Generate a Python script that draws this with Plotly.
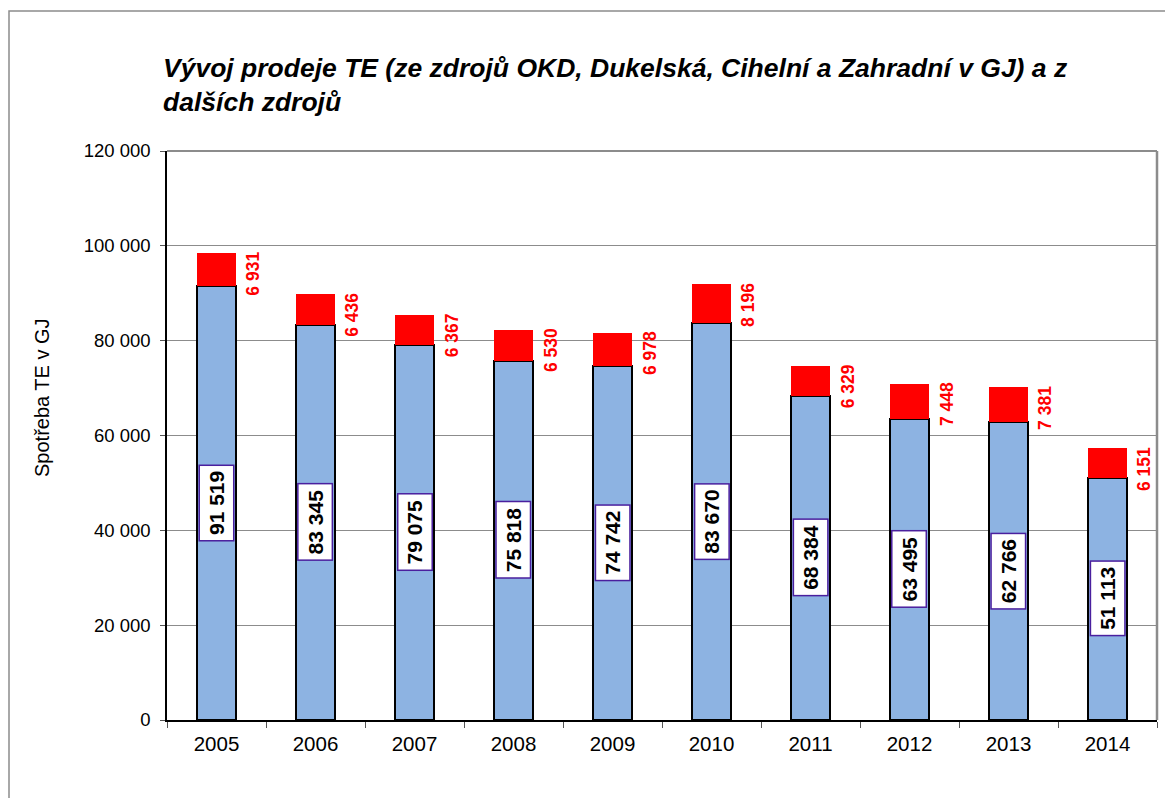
import plotly.graph_objects as go

years = ["2005", "2006", "2007", "2008", "2009", "2010", "2011", "2012", "2013", "2014"]
own_sources = [91519, 83345, 79075, 75818, 74742, 83670, 68384, 63495, 62766, 51113]
other_sources = [6931, 6436, 6367, 6530, 6978, 8196, 6329, 7448, 7381, 6151]
y_ticks = [0, 20000, 40000, 60000, 80000, 100000, 120000]
title_text = "Vývoj prodeje TE (ze zdrojů OKD, Dukelská, Cihelní a Zahradní v GJ) a z<br>dalších zdrojů"

def fmt(v):
    return f"{v:,}".replace(",", " ")

# the page body has an 8px margin; lay out in window pixels and compensate
OFF = 8
W, H = 1173 - OFF, 798 - OFF
PX_L, PX_T, PX_R, PX_B = 167, 151, 1157, 720  # plot area in window pixels
L, T = PX_L - OFF, PX_T - OFF
R, B = W - (PX_R - OFF), H - (PX_B - OFF)
PW, PH = PX_R - PX_L, PX_B - PX_T

def px_x(p):
    return (p - PX_L) / PW

def px_y(p):
    return (PX_B - p) / PH

fig = go.Figure()
fig.add_trace(go.Bar(
    x=years, y=own_sources, name="OKD, Dukelská, Cihelní, Zahradní",
    marker=dict(color="#8DB3E2", line=dict(color="black", width=2)),
))
fig.add_trace(go.Bar(
    x=years, y=other_sources, name="další zdroje",
    marker=dict(color="#FF0000", line=dict(color="#FF0000", width=0)),
))

annotations = []
for i, (a, b) in enumerate(zip(own_sources, other_sources)):
    annotations.append(dict(
        x=i, y=a / 2, xref="x", yref="y", text=fmt(a), showarrow=False,
        textangle=-90, font=dict(family="Liberation Sans, Arial", size=21, color="black", weight="bold"),
        bgcolor="white", bordercolor="#4A1F9E", borderwidth=1.5, borderpad=5,
        xanchor="center", yanchor="middle",
    ))
    annotations.append(dict(
        x=i, y=a + b, xref="x", yref="y", text=fmt(b), showarrow=False,
        textangle=-90, font=dict(family="Liberation Sans, Arial", size=17.5, color="#FF0000", weight="bold"),
        xanchor="center", yanchor="top", xshift=37, yshift=3,
    ))

annotations.append(dict(
    x=px_x(42), y=px_y(397), xref="paper", yref="paper",
    text="Spotřeba TE v GJ", showarrow=False, textangle=-90,
    font=dict(family="Liberation Sans, Arial", size=20, color="black"),
    xanchor="center", yanchor="middle",
))
annotations.append(dict(
    x=px_x(161), y=px_y(51), xref="paper", yref="paper",
    text=title_text, showarrow=False, align="left",
    font=dict(family="Liberation Sans, Arial", size=26.5, color="black", weight="bold", style="italic"),
    xanchor="left", yanchor="top",
))

shapes = [
    dict(type="rect", xref="paper", yref="paper",
         x0=px_x(9), y0=-0.3, x1=1.2, y1=px_y(11),
         line=dict(color="#8C8C8C", width=1.5), layer="below"),
    dict(type="line", xref="paper", yref="paper", x0=0, y0=1, x1=1, y1=1,
         line=dict(color="#8C8C8C", width=2), layer="below"),
    dict(type="line", xref="paper", yref="paper", x0=1, y0=0, x1=1, y1=1,
         line=dict(color="#8C8C8C", width=2.5), layer="below"),
]

fig.update_layout(
    width=W, height=H,
    margin=dict(l=L, r=R, t=T, b=B, autoexpand=False),
    paper_bgcolor="white", plot_bgcolor="white",
    barmode="stack", bargap=0.6, showlegend=False,
    separators=", ",
    font=dict(family="Liberation Sans, Arial", size=18, color="black"),
    xaxis=dict(
        type="category", range=[-0.5, len(years) - 0.5],
        showline=True, linecolor="black", linewidth=1.5,
        ticks="outside", tickson="boundaries", ticklen=6, tickcolor="#555555",
        showgrid=False, tickfont=dict(size=20.5), ticklabelstandoff=5,
    ),
    yaxis=dict(
        range=[0, 120000], tickvals=y_ticks, tickformat=",d",
        showline=True, linecolor="black", linewidth=1.5,
        ticks="outside", ticklen=5, tickcolor="#555555",
        showgrid=True, gridcolor="#8C8C8C", gridwidth=1,
        zeroline=False, tickfont=dict(size=18.5), ticklabelstandoff=6,
    ),
    annotations=annotations, shapes=shapes,
)

fig.write_html("out.html")
